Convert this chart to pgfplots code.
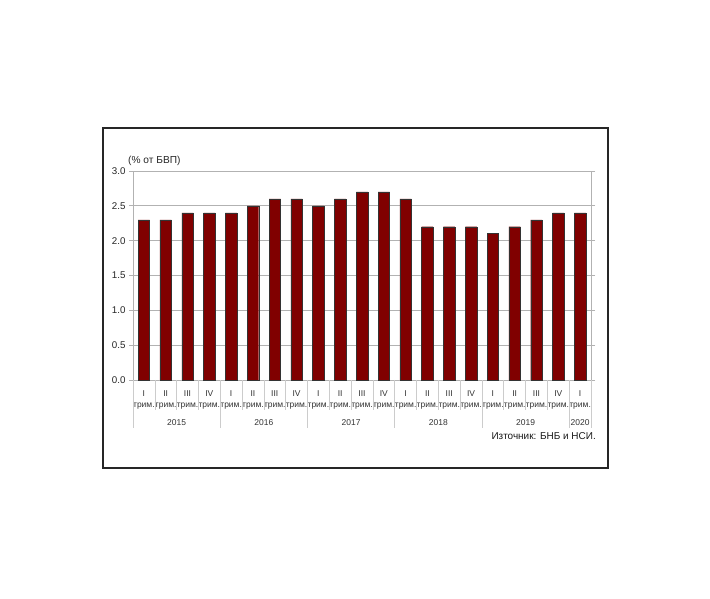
\documentclass[border=0pt]{standalone}
\usepackage{pgfplots}
\pgfplotsset{compat=1.18}
\usepackage{fontspec}
\setmainfont{Liberation Sans}
\definecolor{barred}{HTML}{800000}
\begin{document}
\begin{tikzpicture}[x=1bp,y=1bp]
\useasboundingbox (0,0) rectangle (710,599);
\fill[white] (0,0) rectangle (710,599);
\draw[line width=1.3bp, black!85] (103,131) rectangle (608,471);
\begin{axis}[
  at={(133bp,219bp)}, anchor=south west,
  scale only axis, width=458bp, height=209bp,
  xmin=-0.5, xmax=20.5, ymin=0, ymax=3,
  ytick={0,0.5,1,1.5,2,2.5,3},
  yticklabel style={/pgf/number format/fixed,/pgf/number format/fixed zerofill,/pgf/number format/precision=1, font=\fontsize{9.8}{11}\selectfont, text=black!85},
  /pgf/number format/assume math mode=true,
  ymajorgrids, grid style={gray!60, line width=0.8bp},
  axis line style={gray!60, line width=0.8bp},
  tick style={gray!60, line width=0.8bp},
  ytick align=outside, major tick length=4bp,
  xtick={0,...,20}, xtick style={draw=none},
  xticklabels={{I\\трим.},{II\\трим.},{III\\трим.},{IV\\трим.},
               {I\\трим.},{II\\трим.},{III\\трим.},{IV\\трим.},
               {I\\трим.},{II\\трим.},{III\\трим.},{IV\\трим.},
               {I\\трим.},{II\\трим.},{III\\трим.},{IV\\трим.},
               {I\\трим.},{II\\трим.},{III\\трим.},{IV\\трим.},
               {I\\трим.}},
  xticklabel style={align=center, font=\fontsize{8.5}{11}\selectfont, text=black!80, yshift=-3bp},
  clip=false,
  ybar, bar width=11.5bp,
]
\addplot[fill=barred, draw=black!80, line width=0.4bp] coordinates {
(0,2.3) (1,2.3) (2,2.4) (3,2.4)
(4,2.4) (5,2.5) (6,2.6) (7,2.6)
(8,2.5) (9,2.6) (10,2.7) (11,2.7)
(12,2.6) (13,2.2) (14,2.2) (15,2.2)
(16,2.1) (17,2.2) (18,2.3) (19,2.4)
(20,2.4)};
\pgfplotsinvokeforeach{0.5,1.5,2.5,4.5,5.5,6.5,8.5,9.5,10.5,12.5,13.5,14.5,16.5,17.5,18.5}{
  \draw[gray!40, line width=0.6bp] (axis cs:#1,0) -- ([yshift=-30bp]axis cs:#1,0);
}
\pgfplotsinvokeforeach{-0.5,3.5,7.5,11.5,15.5,19.5,20.5}{
  \draw[gray!40, line width=0.6bp] (axis cs:#1,0) -- ([yshift=-48bp]axis cs:#1,0);
}
\node[font=\fontsize{8.5}{10}\selectfont, text=black!80] at ([yshift=-43bp]axis cs:1.5,0) {2015};
\node[font=\fontsize{8.5}{10}\selectfont, text=black!80] at ([yshift=-43bp]axis cs:5.5,0) {2016};
\node[font=\fontsize{8.5}{10}\selectfont, text=black!80] at ([yshift=-43bp]axis cs:9.5,0) {2017};
\node[font=\fontsize{8.5}{10}\selectfont, text=black!80] at ([yshift=-43bp]axis cs:13.5,0) {2018};
\node[font=\fontsize{8.5}{10}\selectfont, text=black!80] at ([yshift=-43bp]axis cs:17.5,0) {2019};
\node[font=\fontsize{8.5}{10}\selectfont, text=black!80] at ([yshift=-43bp]axis cs:20,0) {2020};
\end{axis}
\node[anchor=west, font=\fontsize{10.2}{12}\selectfont, text=black!85, inner sep=0] at (128,438) {(\% от БВП)};
\node[anchor=east, font=\fontsize{10}{12}\selectfont, text=black!90, inner sep=0] at (596,163) {Източник: БНБ и НСИ.};
\end{tikzpicture}
\end{document}
